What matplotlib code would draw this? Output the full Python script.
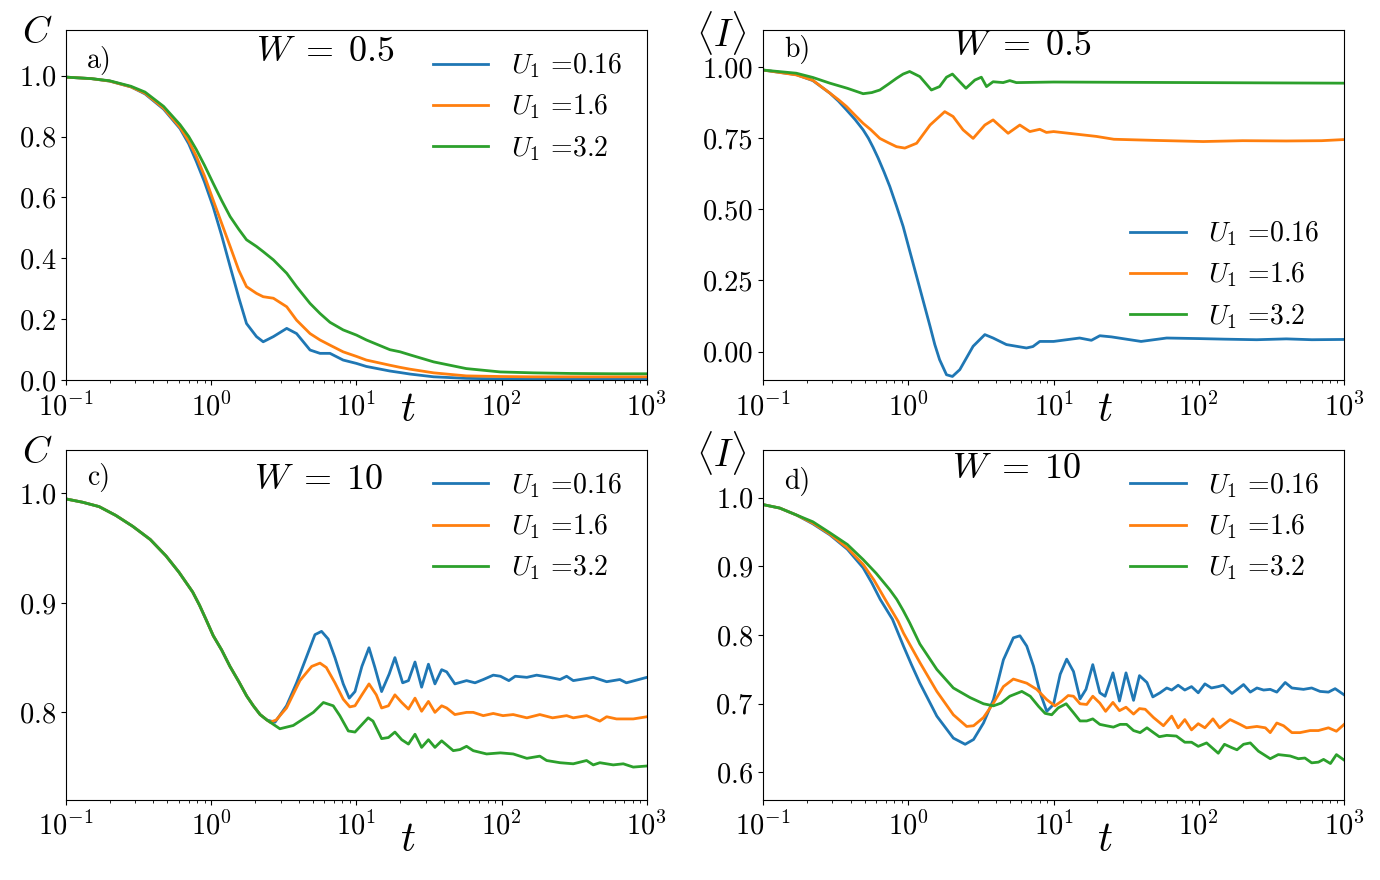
import numpy as np
from matplotlib import pyplot as plt

plt.rcParams['font.family'] = 'serif'
plt.rcParams['font.serif'] = ['cmr10']
plt.rcParams['mathtext.fontset'] = 'cm'
plt.rcParams['axes.formatter.use_mathtext'] = True
plt.rcParams['axes.unicode_minus'] = False

labels = ['$U_1$ =0.16', '$U_1$ =1.6', '$U_1$ =3.2']
colors = ['#1f77b4', '#ff7f0e', '#2ca02c']

# ---- panel a: C(t), W = 0.5
t_a = [0.1, 0.15, 0.2, 0.28, 0.35, 0.47, 0.61, 0.7, 0.79, 0.9, 1.03, 1.18, 1.35, 1.55, 1.75, 2.05, 2.28,
       2.68, 3.31, 3.87, 4.79, 5.61, 6.57, 8.1, 10, 11.7, 17, 20, 23.4, 34, 57, 98, 165, 300, 600, 1000]
Ca_016 = [0.995, 0.990, 0.982, 0.963, 0.940, 0.890, 0.826, 0.776, 0.718, 0.650, 0.570, 0.475, 0.373, 0.270,
          0.186, 0.143, 0.126, 0.143, 0.170, 0.153, 0.099, 0.088, 0.088, 0.066, 0.055, 0.045, 0.030, 0.025,
          0.020, 0.011, 0.006, 0.004, 0.004, 0.004, 0.004, 0.004]
Ca_16 = [0.995, 0.990, 0.982, 0.963, 0.942, 0.893, 0.830, 0.785, 0.735, 0.670, 0.592, 0.515, 0.439, 0.360,
         0.307, 0.285, 0.274, 0.269, 0.241, 0.197, 0.153, 0.132, 0.115, 0.093, 0.078, 0.066, 0.049, 0.042,
         0.036, 0.024, 0.014, 0.012, 0.011, 0.011, 0.011, 0.011]
Ca_32 = [0.995, 0.990, 0.983, 0.965, 0.946, 0.899, 0.839, 0.800, 0.757, 0.705, 0.647, 0.590, 0.537, 0.495,
         0.461, 0.439, 0.422, 0.395, 0.351, 0.307, 0.252, 0.219, 0.190, 0.165, 0.148, 0.132, 0.100, 0.093,
         0.083, 0.060, 0.038, 0.027, 0.024, 0.022, 0.021, 0.021]

# ---- panel b: <I>(t), W = 0.5
tb_016 = [0.1, 0.169, 0.22, 0.288, 0.33, 0.375, 0.43, 0.488, 0.53, 0.571, 0.619, 0.68, 0.745, 0.83, 0.92,
          1.02, 1.14, 1.27, 1.41, 1.52, 1.64, 1.83, 2.01, 2.26, 2.79, 3.36, 3.83, 4.73, 6.5, 7.2, 8.03, 10,
          15.1, 18.2, 20.8, 25, 40, 60, 100, 150, 250, 400, 600, 1000]
Ib_016 = [0.989, 0.973, 0.952, 0.908, 0.880, 0.849, 0.815, 0.779, 0.750, 0.718, 0.680, 0.631, 0.580, 0.510,
          0.440, 0.355, 0.264, 0.175, 0.089, 0.025, -0.028, -0.081, -0.087, -0.063, 0.019, 0.060, 0.048,
          0.025, 0.013, 0.018, 0.036, 0.036, 0.048, 0.040, 0.056, 0.052, 0.036, 0.048, 0.046, 0.044, 0.042,
          0.045, 0.042, 0.043]
tb_16 = [0.1, 0.169, 0.22, 0.288, 0.33, 0.375, 0.43, 0.488, 0.55, 0.636, 0.72, 0.828, 0.945, 1.14, 1.41,
         1.78, 2.03, 2.38, 2.79, 3.36, 3.83, 4.86, 5.85, 6.86, 8.03, 8.92, 10, 19.7, 26, 50, 107, 200, 400,
         700, 1000]
Ib_16 = [0.989, 0.972, 0.953, 0.908, 0.885, 0.861, 0.830, 0.802, 0.780, 0.749, 0.735, 0.720, 0.715, 0.732,
         0.796, 0.843, 0.826, 0.779, 0.749, 0.796, 0.814, 0.767, 0.796, 0.773, 0.781, 0.770, 0.773, 0.756,
         0.746, 0.742, 0.738, 0.741, 0.740, 0.741, 0.745]
tb_32 = [0.1, 0.169, 0.22, 0.288, 0.38, 0.488, 0.56, 0.636, 0.73, 0.828, 0.92, 1.02, 1.2, 1.44, 1.64, 1.83,
         2.01, 2.49, 2.87, 3.18, 3.45, 3.83, 4.49, 4.99, 5.54, 10, 30, 100, 300, 1000]
Ib_32 = [0.989, 0.978, 0.963, 0.943, 0.925, 0.906, 0.910, 0.919, 0.940, 0.960, 0.975, 0.984, 0.966, 0.919,
         0.931, 0.964, 0.975, 0.925, 0.954, 0.964, 0.931, 0.948, 0.945, 0.952, 0.945, 0.947, 0.946, 0.945,
         0.944, 0.943]

# ---- panel c: C(t), W = 10 (all three coincide up to t ~ 2.4)
tc_early = [0.1, 0.13, 0.169, 0.22, 0.288, 0.38, 0.488, 0.6, 0.745, 0.83, 0.92, 1.033, 1.18, 1.346, 1.55,
            1.754, 1.95, 2.17, 2.42]
Cc_early = [0.995, 0.992, 0.988, 0.980, 0.970, 0.958, 0.943, 0.928, 0.910, 0.898, 0.885, 0.870, 0.857,
            0.842, 0.828, 0.815, 0.806, 0.798, 0.793]
tc_016 = [2.75, 3.30, 3.87, 4.54, 5.18, 5.75, 6.39, 7.11, 8.11, 8.92, 9.77, 10.9, 12.2, 13.4, 14.9, 16.8,
          18.4, 20.8, 22.8, 25.3, 28.1, 31.3, 34.7, 38.6, 41.8, 47.6, 57.3, 65.5, 74.7, 87.5, 98, 112, 124,
          149, 174, 214, 252, 280, 311, 427, 528, 650, 722, 1000]
Cc_016 = [0.791, 0.806, 0.827, 0.851, 0.871, 0.874, 0.867, 0.850, 0.826, 0.813, 0.819, 0.842, 0.859, 0.841,
          0.819, 0.835, 0.850, 0.827, 0.829, 0.846, 0.823, 0.844, 0.826, 0.839, 0.837, 0.826, 0.829, 0.827,
          0.830, 0.834, 0.833, 0.829, 0.833, 0.832, 0.834, 0.832, 0.830, 0.833, 0.829, 0.832, 0.828, 0.830,
          0.827, 0.832]
tc_16 = [2.54, 2.8, 3.30, 4.08, 4.92, 5.61, 6.2, 7.11, 8.11, 9.0, 9.77, 10.9, 12.2, 13.7, 14.9, 16.6, 18.4,
         20.5, 22.8, 25.3, 28.1, 31.3, 34.7, 38.6, 41.8, 47.6, 57.3, 63.7, 74.7, 87.5, 102, 120, 149, 183,
         224, 280, 311, 384, 474, 528, 617, 805, 1000]
Cc_16 = [0.791, 0.793, 0.804, 0.829, 0.842, 0.845, 0.841, 0.827, 0.812, 0.805, 0.806, 0.816, 0.826, 0.816,
         0.804, 0.806, 0.816, 0.809, 0.803, 0.813, 0.801, 0.810, 0.800, 0.806, 0.804, 0.798, 0.800, 0.800,
         0.797, 0.799, 0.797, 0.798, 0.795, 0.798, 0.795, 0.797, 0.795, 0.797, 0.792, 0.796, 0.794, 0.794,
         0.796]
tc_32 = [2.97, 3.67, 5.05, 5.92, 6.92, 7.68, 8.79, 9.77, 12.05, 13, 14.9, 16.6, 18.4, 20.5, 22.8, 25.3, 28.1,
         31.3, 34.7, 38.6, 46.4, 51.6, 57.3, 63.7, 78.7, 98, 120, 149, 183, 204, 252, 311, 384, 427, 474, 586,
         687, 805, 1000]
Cc_32 = [0.785, 0.788, 0.800, 0.809, 0.806, 0.797, 0.783, 0.782, 0.795, 0.792, 0.776, 0.777, 0.782, 0.775,
         0.771, 0.780, 0.768, 0.775, 0.768, 0.774, 0.765, 0.766, 0.769, 0.765, 0.762, 0.763, 0.762, 0.758,
         0.760, 0.756, 0.754, 0.753, 0.756, 0.752, 0.754, 0.752, 0.753, 0.750, 0.751]

# ---- panel d: <I>(t), W = 10
td_016 = [0.1, 0.13, 0.169, 0.22, 0.288, 0.38, 0.488, 0.56, 0.64, 0.777, 0.925, 1.05, 1.2, 1.57, 2.04, 2.46,
          2.81, 3.29, 3.85, 4.51, 5.28, 5.86, 6.53, 7.26, 8.07, 8.97, 9.98, 11.1, 12.3, 13.7, 15.2, 16.7, 18.6,
          20.8, 22.6, 25.6, 28.4, 31.5, 35.5, 39, 43.9, 48.2, 54, 60.1, 65, 72, 80, 89, 99, 110, 122, 136,
          147, 169, 203, 226, 251, 279, 310, 344, 393, 437, 525, 598, 683, 780, 867, 1000]
Id_016 = [0.990, 0.985, 0.975, 0.962, 0.946, 0.925, 0.898, 0.876, 0.852, 0.823, 0.784, 0.757, 0.730, 0.682,
          0.650, 0.641, 0.648, 0.672, 0.706, 0.764, 0.796, 0.799, 0.784, 0.755, 0.716, 0.689, 0.699, 0.743,
          0.765, 0.747, 0.707, 0.721, 0.757, 0.716, 0.711, 0.745, 0.704, 0.745, 0.705, 0.741, 0.731, 0.710,
          0.716, 0.723, 0.720, 0.727, 0.720, 0.725, 0.716, 0.729, 0.723, 0.725, 0.727, 0.715, 0.728, 0.717,
          0.723, 0.720, 0.721, 0.717, 0.731, 0.723, 0.721, 0.723, 0.718, 0.717, 0.722, 0.713]
td_16 = [0.1, 0.13, 0.169, 0.22, 0.288, 0.38, 0.488, 0.58, 0.692, 0.85, 0.925, 1.05, 1.2, 1.57, 2.04, 2.52,
         2.81, 3.29, 3.85, 4.51, 5.28, 6.53, 7.65, 8.97, 10.2, 11.4, 12.6, 13.7, 15.2, 16.9, 18.6, 20.8, 22.8,
         25.6, 28.4, 31.5, 35.5, 39, 42.7, 48.7, 57, 65, 72, 80, 89, 99, 110, 125, 139, 164, 192, 213, 251,
         287, 310, 344, 383, 437, 497, 583, 665, 780, 885, 1000]
Id_16 = [0.990, 0.985, 0.975, 0.963, 0.947, 0.927, 0.903, 0.880, 0.852, 0.820, 0.803, 0.782, 0.760, 0.718,
         0.684, 0.667, 0.668, 0.680, 0.701, 0.725, 0.736, 0.730, 0.721, 0.706, 0.697, 0.704, 0.712, 0.711,
         0.700, 0.699, 0.711, 0.701, 0.689, 0.702, 0.690, 0.695, 0.685, 0.693, 0.692, 0.680, 0.668, 0.682,
         0.665, 0.677, 0.662, 0.671, 0.665, 0.678, 0.665, 0.677, 0.670, 0.665, 0.667, 0.665, 0.658, 0.672,
         0.668, 0.658, 0.658, 0.661, 0.661, 0.665, 0.660, 0.670]
td_32 = [0.1, 0.13, 0.169, 0.22, 0.288, 0.38, 0.488, 0.6, 0.745, 0.832, 0.92, 1.02, 1.2, 1.57, 2.04, 2.66,
         3.29, 3.85, 4.35, 4.99, 6.04, 6.9, 7.89, 8.74, 9.7, 10.75, 12.2, 13.7, 15.2, 16.9, 18.6, 20.8, 23.1,
         25.8, 28.7, 31.8, 35.5, 39.4, 43.9, 48.7, 53.4, 60.1, 70, 80, 89, 99, 113, 136, 150, 169, 183, 203,
         226, 257, 310, 352, 425, 484, 537, 598, 665, 722, 805, 885, 1000]
Id_32 = [0.990, 0.985, 0.975, 0.965, 0.949, 0.932, 0.910, 0.890, 0.866, 0.852, 0.836, 0.818, 0.787, 0.750,
         0.723, 0.709, 0.700, 0.697, 0.701, 0.711, 0.718, 0.711, 0.696, 0.686, 0.684, 0.694, 0.700, 0.687,
         0.675, 0.675, 0.678, 0.670, 0.668, 0.666, 0.670, 0.670, 0.661, 0.658, 0.665, 0.658, 0.652, 0.654,
         0.653, 0.644, 0.644, 0.638, 0.643, 0.628, 0.641, 0.636, 0.633, 0.641, 0.643, 0.631, 0.620, 0.626,
         0.624, 0.620, 0.621, 0.614, 0.615, 0.619, 0.613, 0.626, 0.618]


fig, axs = plt.subplots(2, 2, figsize=(13.8, 8.8), dpi=100)
ax_a, ax_b, ax_c, ax_d = axs[0, 0], axs[0, 1], axs[1, 0], axs[1, 1]
ax_a.set_position([0.0478, 0.568, 0.421, 0.398])
ax_b.set_position([0.553, 0.568, 0.421, 0.398])
ax_c.set_position([0.0478, 0.091, 0.421, 0.398])
ax_d.set_position([0.553, 0.091, 0.421, 0.398])

curves = {
    ax_a: [(t_a, Ca_016), (t_a, Ca_16), (t_a, Ca_32)],
    ax_b: [(tb_016, Ib_016), (tb_16, Ib_16), (tb_32, Ib_32)],
    ax_c: [(tc_early + tc_016, Cc_early + Cc_016), (tc_early + tc_16, Cc_early + Cc_16),
           (tc_early + tc_32, Cc_early + Cc_32)],
    ax_d: [(td_016, Id_016), (td_16, Id_16), (td_32, Id_32)],
}

for ax, data in curves.items():
    for (t, y), lab, c in zip(data, labels, colors):
        ax.plot(t, y, color=c, lw=2.0, label=lab)
    ax.set_xscale('log')
    ax.set_xlim(0.1, 1000)
    ax.tick_params(labelsize=20.5)
    ax.tick_params(axis='x', pad=5)

ax_a.set_ylim(0, 1.15)
ax_a.set_yticks([0.0, 0.2, 0.4, 0.6, 0.8, 1.0])
ax_b.set_ylim(-0.1, 1.13)
ax_b.set_yticks([0.0, 0.25, 0.5, 0.75, 1.0])
ax_b.set_yticklabels(['0.00', '0.25', '0.50', '0.75', '1.00'])
ax_c.set_ylim(0.72, 1.04)
ax_c.set_yticks([0.8, 0.9, 1.0])
ax_d.set_ylim(0.56, 1.07)
ax_d.set_yticks([0.6, 0.7, 0.8, 0.9, 1.0])

# y labels at the top left corner
ylab = {ax_a: ('$C$', -0.05, 0.99), ax_b: (r'$\langle I \rangle$', -0.072, 0.99),
        ax_c: ('$C$', -0.05, 0.99), ax_d: (r'$\langle I \rangle$', -0.072, 0.99)}
for ax, (s, x, y) in ylab.items():
    ax.text(x, y, s, transform=ax.transAxes, fontsize=27, ha='center', va='center')

# t label
for ax, y in [(ax_a, -0.086), (ax_b, -0.086), (ax_c, -0.114), (ax_d, -0.114)]:
    ax.text(0.588, y, '$t$', transform=ax.transAxes, fontsize=30, ha='center', va='center')

# panel letters
for ax, s, y in [(ax_a, 'a)', 0.914), (ax_b, 'b)', 0.943), (ax_c, 'c)', 0.92), (ax_d, 'd)', 0.909)]:
    ax.text(0.036, y, s, transform=ax.transAxes, fontsize=20, ha='left', va='center')

# W annotation
for ax, s, x, y in [(ax_a, r'$W\;=\;0.5$', 0.446, 0.937), (ax_b, r'$W\;=\;0.5$', 0.446, 0.954),
                    (ax_c, r'$W\;=\;10$', 0.435, 0.914), (ax_d, r'$W\;=\;10$', 0.436, 0.943)]:
    ax.text(x, y, s, transform=ax.transAxes, fontsize=26, ha='center', va='center')

for ax in [ax_a, ax_c, ax_d]:
    ax.legend(loc='upper right', frameon=False, fontsize=20, labelspacing=0.45,
              bbox_to_anchor=(1.0, 1.01))
ax_b.legend(loc='lower right', frameon=False, fontsize=20, labelspacing=0.45, bbox_to_anchor=(1.0, 0.07))

plt.savefig('out.png', dpi=100)
